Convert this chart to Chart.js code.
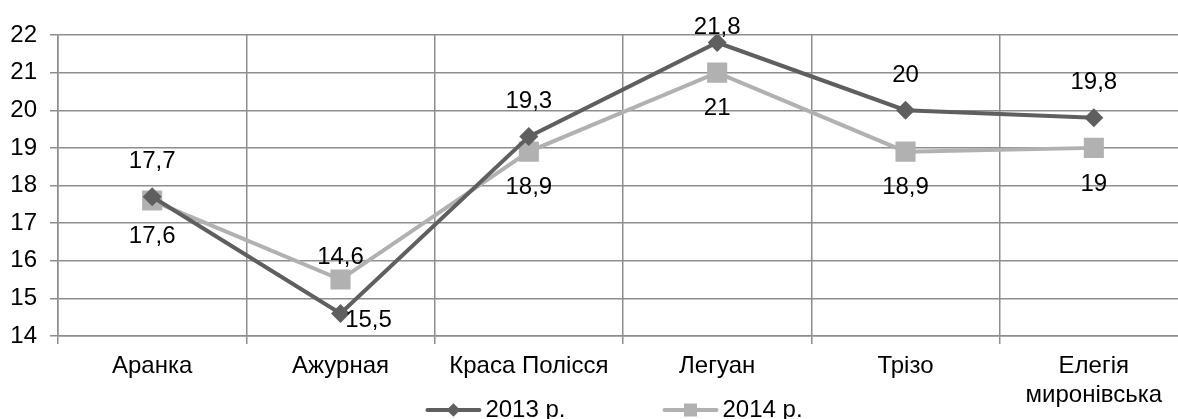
<!DOCTYPE html>
<html>
<head>
<meta charset="utf-8">
<script src="https://cdn.jsdelivr.net/npm/chart.js@4/dist/chart.umd.min.js"></script>
<style>
  html, body { margin: 0; padding: 0; background: #fff; overflow: hidden; }
  /* the plot runs a little past the right edge of the picture, as in the original */
  #wrap { width: 1188px; height: 419px; }
</style>
</head>
<body>
<div id="wrap"><canvas id="lineChart"></canvas></div>
<script>
const categories = ["Аранка", "Ажурная", "Краса Полісся", "Легуан", "Трізо", ["Елегія", "миронівська"]];
const seriesNames = ["2013 р.", "2014 р."];
const values2013 = [17.7, 14.6, 19.3, 21.8, 20, 19.8];
const values2014 = [17.6, 15.5, 18.9, 21, 18.9, 19];
const yTicks = [14, 15, 16, 17, 18, 19, 20, 21, 22];

const FONT = '"Liberation Sans", Arial, sans-serif';
const FONT_SIZE = 24;
const dark = "#5f5f5f";
const light = "#b1b1b1";
const gridColor = "#8e8e8e";

// value labels: 2013 above the point, 2014 below, nudged when the other marker is in the way
const valueLabels = {
  id: "valueLabels",
  afterDatasetsDraw(chart) {
    const ctx = chart.ctx;
    ctx.save();
    ctx.font = FONT_SIZE + "px " + FONT;
    ctx.fillStyle = "#000";
    ctx.textAlign = "center";
    ctx.textBaseline = "middle";
    chart.data.datasets.forEach((ds, di) => {
      const meta = chart.getDatasetMeta(di);
      const other = chart.getDatasetMeta(1 - di);
      const dir = di === 0 ? -1 : 1;
      meta.data.forEach((pt, i) => {
        const text = String(ds.data[i]).replace(".", ",");
        let x = pt.x;
        let y = pt.y + (dir < 0 ? -35 : 36);
        const o = other.data[i];
        if ((o.y - pt.y) * dir > 0 && Math.abs(o.y - y) < 21) {
          if (dir < 0) y = o.y - 22;
          else { x += 28; y += 5; }
        }
        y = Math.max(y, 27);
        ctx.fillText(text, x, y);
      });
    });
    ctx.restore();
  },
};

// legend drawn as line + marker, like the office chart legend
const lineLegend = {
  id: "lineLegend",
  afterDraw(chart) {
    const ctx = chart.ctx;
    const area = chart.chartArea;
    const sampleW = 56, textGap = 4, itemGap = 97;
    ctx.save();
    ctx.font = FONT_SIZE + "px " + FONT;
    const items = chart.data.datasets.map((ds) => ({ ds, w: sampleW + textGap + ctx.measureText(ds.label).width }));
    const total = items.reduce((s, it) => s + it.w, 0) + itemGap * (items.length - 1);
    let x = (area.left + area.right) / 2 - 9 - total / 2;
    const y = chart.height - 9;
    items.forEach(({ ds, w }) => {
      ctx.strokeStyle = ds.borderColor;
      ctx.lineWidth = 4;
      ctx.lineCap = "round";
      ctx.beginPath();
      ctx.moveTo(x + 2, y);
      ctx.lineTo(x + sampleW - 2, y);
      ctx.stroke();
      ctx.fillStyle = ds.backgroundColor;
      Chart.helpers.drawPoint(ctx, {
        pointStyle: ds.pointStyle,
        radius: ds.pointStyle === "rect" ? 9.2 : 6.8,
        rotation: 0,
        borderWidth: 0,
      }, x + sampleW / 2, y);
      ctx.fillStyle = "#000";
      ctx.textAlign = "left";
      ctx.textBaseline = "middle";
      ctx.fillText(ds.label, x + sampleW + textGap, y);
      x += w + itemGap;
    });
    ctx.restore();
  },
};

const ctx = document.getElementById("lineChart");

new Chart(ctx, {
  type: "line",
  data: {
    labels: categories,
    datasets: [
      {
        label: seriesNames[0],
        data: values2013,
        borderColor: dark,
        backgroundColor: dark,
        borderWidth: 4,
        pointStyle: "rectRot",
        pointRadius: 9.5,
        pointBorderWidth: 0,
        tension: 0,
      },
      {
        label: seriesNames[1],
        data: values2014,
        borderColor: light,
        backgroundColor: light,
        borderWidth: 4,
        pointStyle: "rect",
        pointRadius: 14.2,
        pointBorderWidth: 0,
        tension: 0,
      },
    ],
  },
  options: {
    responsive: true,
    maintainAspectRatio: false,
    animation: false,
    layout: { autoPadding: false, padding: { top: 35, left: 0, right: 0, bottom: 0 } },
    scales: {
      x: {
        offset: true,
        grid: { offset: true, color: gridColor, lineWidth: 1.5, tickLength: 8 },
        border: { color: gridColor, width: 1.5 },
        ticks: {
          color: "#000",
          padding: 8,
          maxRotation: 0,
          autoSkip: false,
          font: { family: FONT, size: FONT_SIZE, lineHeight: 1.2 },
        },
        afterFit: (scale) => { scale.height = 83; },
      },
      y: {
        min: yTicks[0],
        max: yTicks[yTicks.length - 1],
        afterBuildTicks: (scale) => { scale.ticks = yTicks.map((v) => ({ value: v })); },
        grid: { color: gridColor, lineWidth: 1.5, tickLength: 8 },
        border: { color: gridColor, width: 1.5 },
        ticks: {
          color: "#000",
          padding: 13,
          font: { family: FONT, size: FONT_SIZE },
        },
        afterFit: (scale) => { scale.width = 58; },
      },
    },
    plugins: {
      tooltip: { enabled: false },
      legend: { display: false },
    },
  },
  plugins: [valueLabels, lineLegend],
});
</script>
</body>
</html>
